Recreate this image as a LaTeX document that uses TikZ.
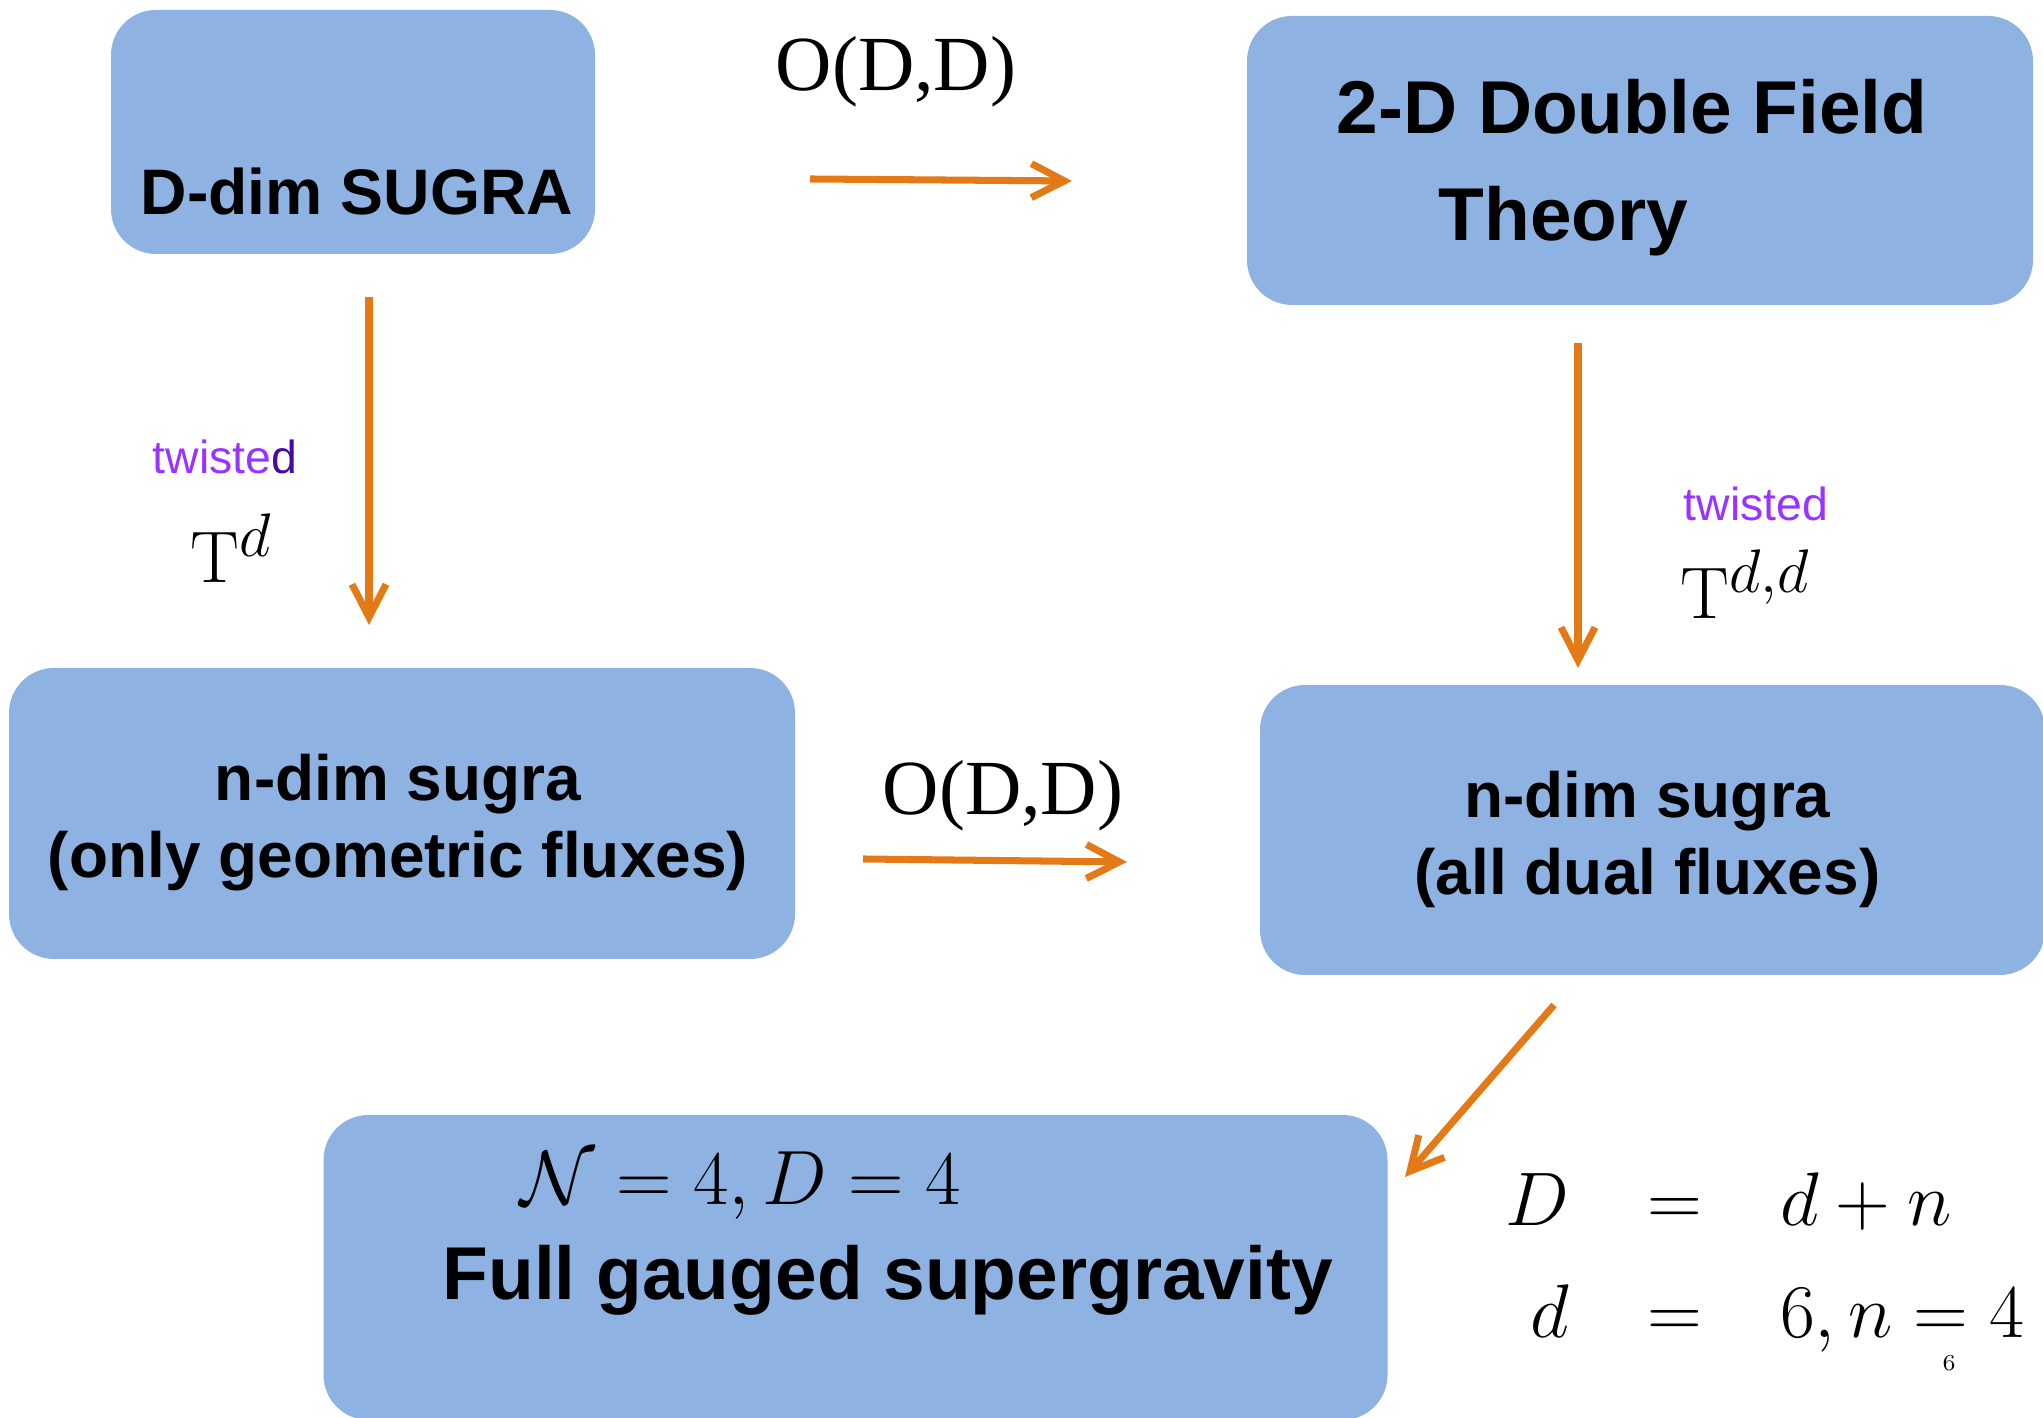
\RequirePackage{fix-cm}
\documentclass[tikz,border=0pt]{standalone}
\usepackage{fontspec}
\newfontfamily\headfont{Liberation Sans}
\newfontfamily\opfont{Liberation Serif}
\DeclareMathSizes{20.8}{20.8}{17.5}{12}
\usetikzlibrary{arrows.meta,matrix}
\definecolor{boxblue}{RGB}{142,179,226}
\definecolor{arrorange}{RGB}{228,121,23}
\definecolor{twviolet}{RGB}{153,51,255}
\definecolor{twindigo}{RGB}{70,12,160}

\begin{document}
\begin{tikzpicture}[
        box/.style={fill=boxblue, rounded corners=0.45cm, inner sep=0pt},
        flow/.style={arrorange, line width=2pt, -{Straight Barb[length=0.33cm, width=0.34cm]}},
        lbl/.style={anchor=base west, inner sep=0pt},
        fluxes/.style={align=center, inner sep=0pt, font=\headfont\bfseries\fontsize{18.2}{21.9}\selectfont},
        twist/.style={lbl, twviolet, font=\headfont\fontsize{13.2}{15}\selectfont},
        dual/.style={lbl, font=\opfont\fontsize{22.2}{26}\selectfont},
        torus/.style={lbl, font=\fontsize{20.8}{25}\selectfont}
    ]

            % Canvas
            \useasboundingbox (0,0) rectangle (20.43,14.18);

            % Boxes
            \node[box, minimum width=4.84cm, minimum height=2.44cm] (dsugra) at (3.53,12.86) {};
            \node[box, minimum width=7.86cm, minimum height=2.89cm] (dft) at (16.40,12.575) {};
            \node[box, minimum width=7.86cm, minimum height=2.91cm] (ngeo) at (4.02,6.045) {};
            \node[box, minimum width=7.85cm, minimum height=2.90cm] (ndual) at (16.525,5.88) {};
            \node[box, minimum width=10.64cm, minimum height=3.05cm] (fullg) at (8.555,1.505) {};

            % Box texts
            \node[lbl, font=\headfont\bfseries\fontsize{18.3}{22}\selectfont] (dsugraT) at (1.40,12.03) {D-dim SUGRA};
            \node[lbl, font=\headfont\bfseries\fontsize{21.3}{26}\selectfont] (dftA) at (13.36,12.84) {2-D Double Field};
            \node[lbl, font=\headfont\bfseries\fontsize{21.3}{26}\selectfont] (dftB) at (14.38,11.77) {Theory};
            \node[fluxes] (ngeoT) at ([xshift=-0.04cm,yshift=-0.09cm]ngeo.center) {n-dim sugra\\(only geometric fluxes)};
            \node[fluxes] (ndualT) at ([xshift=-0.05cm,yshift=-0.09cm]ndual.center) {n-dim sugra\\(all dual fluxes)};
            \node[lbl, font=\fontsize{21.9}{25}\selectfont] (fullgA) at (5.20,2.13) {$\mathcal{N}=4, D=4$};
            \node[lbl, font=\headfont\bfseries\fontsize{21.3}{25}\selectfont] (fullgB) at (4.42,1.18) {Full gauged supergravity};

            % Arrows
            \coordinate (odd1s) at (8.10,12.39);
            \coordinate (odd1e) at (10.72,12.37);
            \coordinate (odd2s) at (8.63,5.59);
            \coordinate (odd2e) at (11.27,5.56);
            \coordinate (twLs) at (3.69,11.21);
            \coordinate (twLe) at (3.69,7.93);
            \coordinate (twRs) at (15.78,10.75);
            \coordinate (twRe) at (15.78,7.50);
            \coordinate (redS) at (15.54,4.13);
            \coordinate (redE) at (14.05,2.41);
            \draw[flow] (odd1s) -- (odd1e);
            \draw[flow] (odd2s) -- (odd2e);
            \draw[flow] (twLs) -- (twLe);
            \draw[flow] (twRs) -- (twRe);
            \draw[flow] (redS) -- (redE);

            % Arrow labels
            \node[dual] (oddTop) at (7.75,13.27) {O(D,D)};
            \node[dual] (oddMid) at (8.82,6.03) {O(D,D)};
            \node[twist] (twL) at (1.52,9.44) {twiste\textcolor{twindigo}{d}};
            \node[torus] (tdL) at (1.90,8.35) {$\mathrm{T}^d$};
            \node[twist] (twR) at (16.83,8.97) {twisted};
            \node[torus] (tdR) at (16.80,7.99) {$\mathrm{T}^{d,d}$};

            % Dimensions
            \matrix (eqs) [matrix of math nodes, anchor=north west, inner sep=0pt,
                column sep=0.78cm, row sep=0.47cm,
                nodes={inner sep=0pt, text height=0.5cm, text depth=0.15cm, font=\fontsize{21.6}{25}\selectfont},
                column 1/.style={anchor=base east}, column 3/.style={anchor=base west}] at (15.05,2.43) {
                D & = & d+n \\
                d & = & 6,n=4 \\
            };
            \node[inner sep=0pt, font=\fontsize{6.5}{7}\selectfont] (pg) at (19.49,0.55) {6};

\end{tikzpicture}
\end{document}
